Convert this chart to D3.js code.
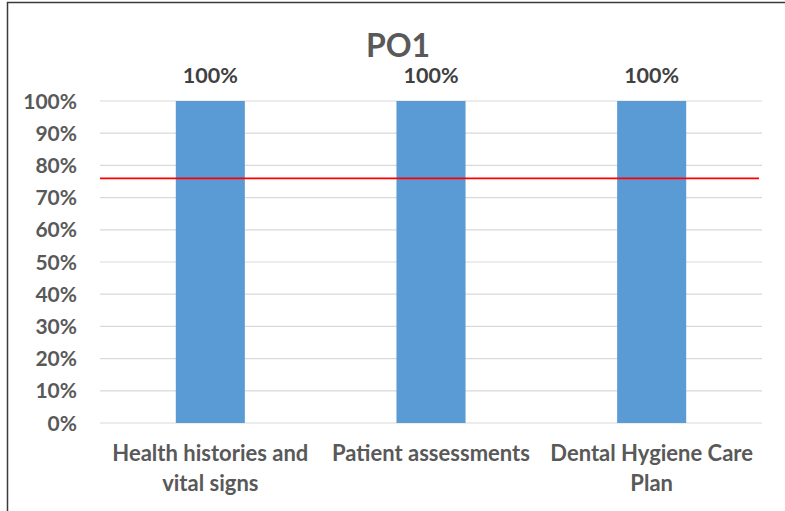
<!DOCTYPE html>
<html>
<head>
<meta charset="utf-8">
<script src="https://cdn.jsdelivr.net/npm/d3@7"></script>
<style>
  body { margin: 0; background: #fff; }
  text { font-family: Lato, "Open Sans", sans-serif; font-weight: bold; }
</style>
</head>
<body>
<div id="main"></div>
<script>
// DATA
const categories = [["Health histories and", "vital signs"], ["Patient assessments"], ["Dental Hygiene Care", "Plan"]]
const values = [1, 1, 1]
const target = 0.76
const yTicks = [0, .1, .2, .3, .4, .5, .6, .7, .8, .9, 1]
const title = "PO1"

// SETUP
const width = 785
const height = 511
const plot = { left: 100, right: 762, top: 101, bottom: 423 }

const svg = d3.select("#main").append("svg")
    .attr("width", width)
    .attr("height", height)

// frame
svg.append("rect")
    .attr("x", 7.5).attr("y", 2.5)
    .attr("width", 800).attr("height", 520)
    .attr("fill", "none")
    .attr("stroke", "#3a3a3a")
    .attr("stroke-width", 1.5)

// SCALES
const x = d3.scaleBand()
    .domain(d3.range(categories.length))
    .range([plot.left, plot.right])
    .paddingInner(0.687)
    .paddingOuter(0.3435)

const y = d3.scaleLinear()
    .domain([0, 1])
    .range([plot.bottom, plot.top])

const pct = d3.format(".0%")

// grid
svg.append("g").selectAll("line")
    .data(yTicks)
    .enter().append("line")
        .attr("x1", plot.left).attr("x2", plot.right)
        .attr("y1", d => y(d)).attr("y2", d => y(d))
        .attr("stroke", "#d9d9d9")
        .attr("stroke-width", 1.2)

// y axis labels
svg.append("g").selectAll("text")
    .data(yTicks)
    .enter().append("text")
        .attr("x", 77)
        .attr("y", d => y(d))
        .attr("dy", "0.36em")
        .attr("text-anchor", "end")
        .attr("font-size", 21)
        .attr("fill", "#595959")
        .text(pct)

// bars
svg.append("g").selectAll("rect")
    .data(values)
    .enter().append("rect")
        .attr("x", (d, i) => x(i))
        .attr("y", d => y(d))
        .attr("width", x.bandwidth())
        .attr("height", d => y(0) - y(d))
        .attr("fill", "#5b9bd5")

// value labels
svg.append("g").selectAll("text")
    .data(values)
    .enter().append("text")
        .attr("x", (d, i) => x(i) + x.bandwidth() / 2)
        .attr("y", d => y(d) - 18)
        .attr("text-anchor", "middle")
        .attr("font-size", 21.5)
        .attr("fill", "#404040")
        .text(pct)

// target line
svg.append("line")
    .attr("x1", plot.left).attr("x2", 759)
    .attr("y1", y(target)).attr("y2", y(target))
    .attr("stroke", "#ff0000")
    .attr("stroke-width", 1.8)

// category labels
const cat = svg.append("g").selectAll("text")
    .data(categories)
    .enter().append("text")
        .attr("x", (d, i) => x(i) + x.bandwidth() / 2)
        .attr("y", 461)
        .attr("text-anchor", "middle")
        .attr("font-size", 22)
        .attr("fill", "#595959")

cat.selectAll("tspan")
    .data(d => d)
    .enter().append("tspan")
        .attr("x", function() { return this.parentNode.getAttribute("x") })
        .attr("dy", (d, i) => i ? 30 : 0)
        .text(d => d)

// title
svg.append("text")
    .attr("x", 398)
    .attr("y", 57)
    .attr("text-anchor", "middle")
    .attr("font-size", 32)
    .attr("fill", "#595959")
    .text(title)
</script>
</body>
</html>
